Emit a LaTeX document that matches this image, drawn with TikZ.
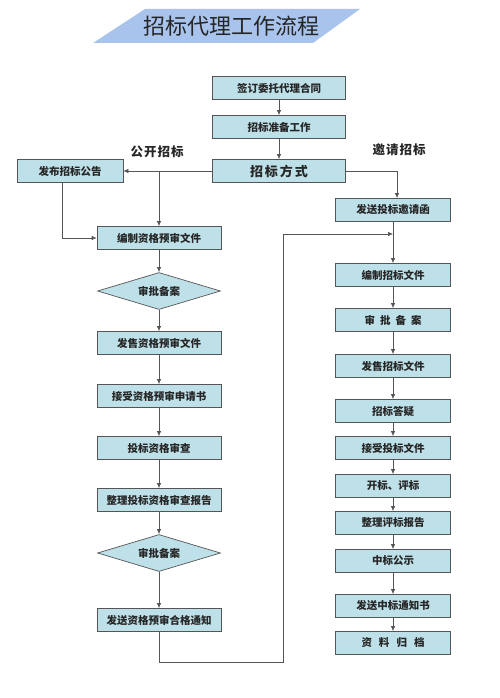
\documentclass[tikz,border=0pt]{standalone}
\usepackage{fontspec}
\setmainfont{Noto Sans CJK SC}
\usepackage{tikz}
\usetikzlibrary{arrows.meta,positioning,calc,shapes.geometric}
\definecolor{boxblue}{RGB}{190,224,232}
\definecolor{titleblue}{RGB}{168,196,236}
\definecolor{edgegray}{RGB}{85,85,85}

\begin{document}
\begin{tikzpicture}
    [x=1pt,y=-1pt,>={Latex[length=5pt,width=4.5pt]},
    every node/.style={font=\bfseries\fontsize{10.5}{12}\selectfont,text=black!85},
    box/.style={rectangle,draw=edgegray,line width=0.7pt,fill=boxblue,minimum height=23pt,inner sep=0pt},
    lbox/.style={box,minimum width=124pt},
    rbox/.style={box,minimum width=115pt},
    tbox/.style={box,minimum width=133pt},
    dia/.style={diamond,draw=edgegray,line width=0.7pt,fill=boxblue,aspect=3.3,minimum width=123pt,minimum height=37pt,inner sep=0pt},
    link/.style={draw=edgegray,line width=0.7pt,->}]
    \useasboundingbox (0,0) rectangle (500,698);

    % title
    \fill[titleblue] (145,9) -- (360,9) -- (313,43) -- (93,43) -- cycle;
    \node[font=\fontsize{22}{24}\selectfont] (title) at (231,26) {招标代理工作流程};

    % top column
    \node[tbox] (wt) at (279,88) {签订委托代理合同};
    \node[tbox] (zb) at (279,127) {招标准备工作};
    \node[tbox,font=\bfseries\fontsize{13}{14}\selectfont] (fs) at (279,171) {招\hspace{2pt}标\hspace{2pt}方\hspace{2pt}式};
    \node[font=\bfseries\fontsize{12.5}{14}\selectfont] (gk) at (157,152) {公\hspace{1pt}开\hspace{1pt}招\hspace{1pt}标};
    \node[font=\bfseries\fontsize{12.5}{14}\selectfont] (yq) at (399,150) {邀\hspace{1pt}请\hspace{1pt}招\hspace{1pt}标};

    % open tendering
    \node[box,minimum width=106pt] (gg) at (70,171) {发布招标公告};
    \node[lbox] (bz) at (159,238) {编制资格预审文件};
    \node[dia] (sp1) at (159,291) {审批备案};
    \node[lbox] (fsh) at (159,343) {发售资格预审文件};
    \node[lbox] (js) at (159,396) {接受资格预审申请书};
    \node[lbox] (sc) at (159,448) {投标资格审查};
    \node[lbox] (bg) at (159,500) {整理投标资格审查报告};
    \node[dia] (sp2) at (159,553) {审批备案};
    \node[lbox] (tz) at (159,620) {发送资格预审合格通知};

    % invited tendering
    \node[rbox] (yqh) at (393,210) {发送投标邀请函};
    \node[rbox] (bzwj) at (393,275) {编制招标文件};
    \node[rbox] (spba) at (393,320) {审\hspace{5pt}批\hspace{5pt}备\hspace{5pt}案};
    \node[rbox] (fswj) at (393,366) {发售招标文件};
    \node[rbox] (dy) at (393,411) {招标答疑};
    \node[rbox] (jswj) at (393,448) {接受投标文件};
    \node[rbox] (kb) at (393,486) {开标、评标};
    \node[rbox] (pb) at (393,523) {整理评标报告};
    \node[rbox] (gs) at (393,561) {中标公示};
    \node[rbox] (tzs) at (393,606) {发送中标通知书};
    \node[rbox] (gd) at (393,643) {资\hspace{7pt}料\hspace{7pt}归\hspace{7pt}档};

    \coordinate (c1) at (283,662);
    \coordinate (c2) at (393,234);

    \draw[link] (wt) -- (zb);
    \draw[link] (zb) -- (fs);
    \draw[link] (fs.west) -- (gg.east);
    \draw[link] (fs.west -| bz.north) -- (bz.north);
    \draw[link] ([xshift=-8pt]gg.south) |- (bz.west);
    \draw[link] (fs.east) -| ([xshift=4pt]yqh.north);
    \draw[link] (bz) -- (sp1);
    \draw[link] (sp1) -- (fsh);
    \draw[link] (fsh) -- (js);
    \draw[link] (js) -- (sc);
    \draw[link] (sc) -- (bg);
    \draw[link] (bg) -- (sp2);
    \draw[link] (sp2) -- (tz);
    \draw[link] (tz.south) |- (c1) |- (c2);
    \draw[link] (yqh) -- (bzwj);
    \draw[link] (bzwj) -- (spba);
    \draw[link] (spba) -- (fswj);
    \draw[link] (fswj) -- (dy);
    \draw[link] (dy) -- (jswj);
    \draw[link] (jswj) -- (kb);
    \draw[link] (kb) -- (pb);
    \draw[link] (pb) -- (gs);
    \draw[link] (gs) -- (tzs);
    \draw[link] (tzs) -- (gd);
\end{tikzpicture}
\end{document}
